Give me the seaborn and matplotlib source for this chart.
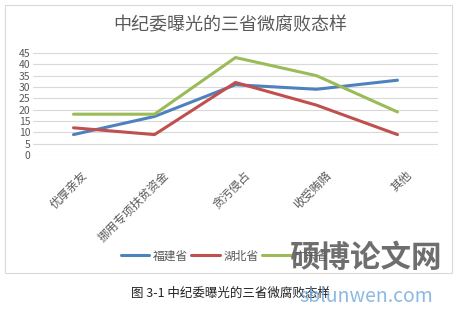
import matplotlib
matplotlib.use("Agg")
import matplotlib.pyplot as plt
import matplotlib.transforms as mtransforms
import seaborn as sns
import pandas as pd
from matplotlib.patches import Rectangle
from matplotlib.lines import Line2D

categories = ["优厚亲友", "挪用专项扶贫资金", "贪污侵占", "收受贿赂", "其他"]
fujian = [9, 17, 31, 29, 33]
hubei = [12, 9, 32, 22, 9]
guangdong = [18, 18, 43, 35, 19]
series_names = ["福建省", "湖北省", "广东省"]
yticks = [0, 5, 10, 15, 20, 25, 30, 35, 40, 45]

sns.set_theme(style="white")
plt.rcParams['font.family'] = ['Noto Sans CJK SC', 'DejaVu Sans']

df = pd.DataFrame({
    "cat": categories * 3,
    "x": list(range(len(categories))) * 3,
    "val": fujian + hubei + guangdong,
    "prov": [series_names[0]] * 5 + [series_names[1]] * 5 + [series_names[2]] * 5,
})

W, H = 469, 313
fig = plt.figure(figsize=(W / 100, H / 100), dpi=100)
fig.patch.set_facecolor("white")

# outer chart border
fig.add_artist(Rectangle((5 / W, 1 - 273 / H), 447 / W, 268 / H, transform=fig.transFigure,
                         fill=False, edgecolor="#D9D9D9", linewidth=0.8))

ax = fig.add_axes([33 / W, 1 - 155 / H, 405 / W, 102 / H])
palette = {"福建省": "#4F81BD", "湖北省": "#C0504D", "广东省": "#9BBB59"}
sns.lineplot(data=df, x="x", y="val", hue="prov", palette=palette, linewidth=2.2,
             ax=ax, legend=False, sort=False)

ax.set_xlim(-0.5, 4.5)
ax.set_ylim(0, 45)
ax.set_yticks(yticks)
ax.set_yticklabels([str(t) for t in yticks], fontsize=7.5, color="#595959")
ax.yaxis.grid(True, color="#D9D9D9", linewidth=0.8)
ax.set_axisbelow(True)
ax.set_xticks(range(len(categories)))
ax.set_xticklabels(categories, rotation=45, ha="right", rotation_mode="anchor",
                   fontsize=8.5, color="#595959")
ax.tick_params(axis="y", length=0, pad=2)
ax.tick_params(axis="x", length=0, pad=10)
offset = mtransforms.ScaledTranslation(8 / 100, 0, fig.dpi_scale_trans)
for lbl in ax.get_xticklabels():
    lbl.set_transform(lbl.get_transform() + offset)
ax.set_xlabel("")
ax.set_ylabel("")
for s in ax.spines.values():
    s.set_visible(False)

fig.text(230 / W, 1 - 25 / H, "中纪委曝光的三省微腐败态样", ha="center", va="center",
         fontsize=13, color="#595959")

# legend
handles = [Line2D([0], [0], color=palette[n], linewidth=2.2) for n in series_names]
fig.legend(handles, series_names, loc="center", bbox_to_anchor=(225 / W, 1 - 256 / H),
           ncol=3, frameon=False, fontsize=8.5, handlelength=2.4, columnspacing=0.3,
           handletextpad=0.3, labelcolor="#595959")

fig.text(230 / W, 1 - 293 / H, "图 3-1 中纪委曝光的三省微腐败态样", ha="center", va="center",
         fontsize=9, color="#222222")

# watermark
fig.text(366 / W, 1 - 258 / H, "硕博论文网", ha="center", va="center", fontsize=22,
         color="#555555", alpha=0.85, fontweight="bold")
fig.text(366 / W, 1 - 296 / H, "sblunwen.com", ha="center", va="center", fontsize=14,
         color="#6FA8DC", alpha=0.8)

fig.savefig("out.png", dpi=100, facecolor="white")
